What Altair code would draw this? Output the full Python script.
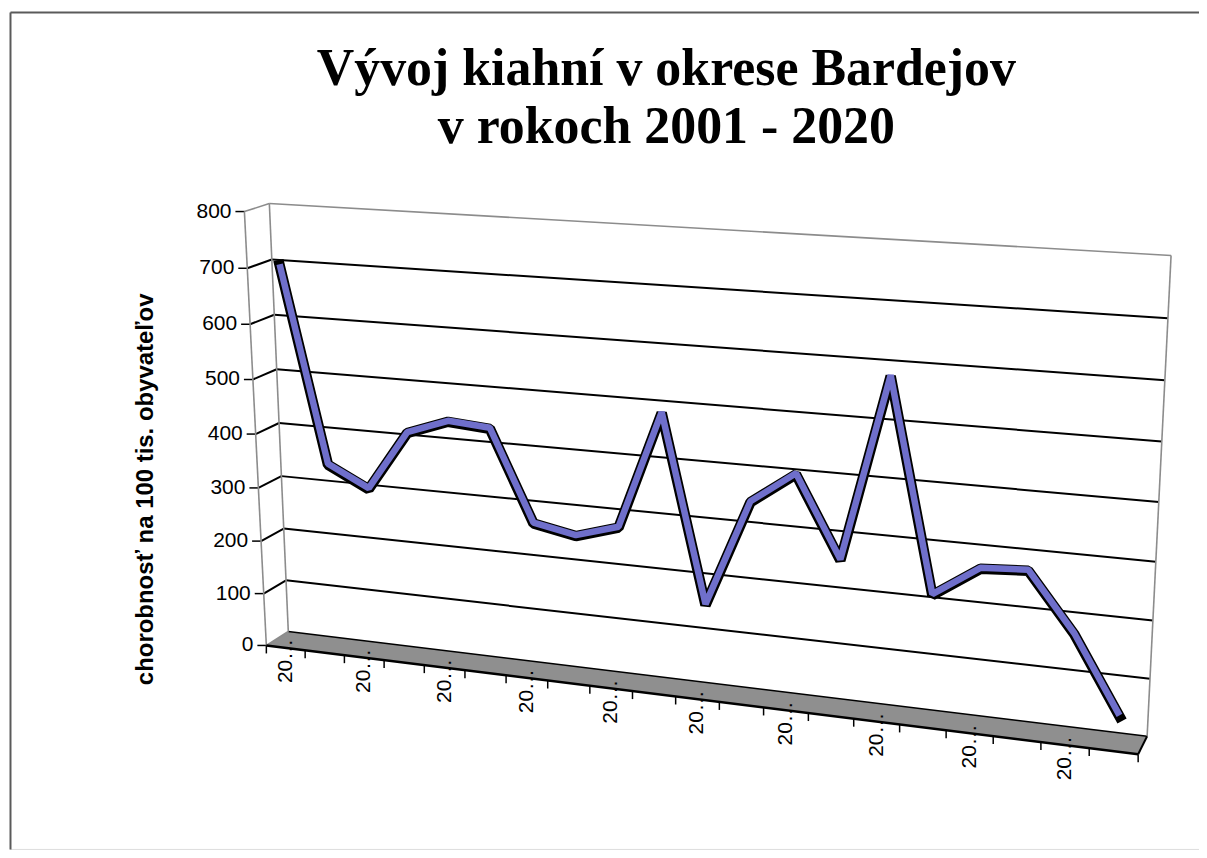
import altair as alt
import pandas as pd

# ---------------- data ----------------
years = ["2001", "2002", "2003", "2004", "2005", "2006", "2007", "2008", "2009", "2010",
         "2011", "2012", "2013", "2014", "2015", "2016", "2017", "2018", "2019", "2020"]
values = [700, 343, 305, 415, 442, 436, 272, 257, 280, 490,
          157, 348, 404, 262, 584, 218, 272, 277, 177, 45]
y_ticks = [0, 100, 200, 300, 400, 500, 600, 700, 800]
title_lines = ["Vývoj kiahní v okrese Bardejov", "v rokoch 2001 - 2020"]
y_title = "chorobnosť na 100 tis. obyvateľov"

# ---------------- 3D box geometry (screen pixels) ----------------
VIEW_X0, VIEW_Y0, VIEW_W, VIEW_H = 10, 11, 1192, 839
# each edge: (point at value 0, point at top value)
BOX = {
    "FL": ((267, 646), (245, 211)),   # front-left edge
    "BL": ((289, 632), (270, 203)),   # back-left edge
    "FR": ((1141, 755), (1165, 266)), # front-right edge
    "BR": ((1150, 737), (1174, 255)), # back-right edge
}
KV, KH = 0.95, 0.885   # perspective foreshortening (vertical, horizontal)
N = len(years)
VMAX = y_ticks[-1]


def warp(s, k):
    return k * s / (1 + (k - 1) * s)


def edge(name, v):
    (x0, y0), (x1, y1) = BOX[name]
    h = warp(v / VMAX, KV)
    return x0 + (x1 - x0) * h, y0 + (y1 - y0) * h


def proj(c, d, v):
    """category position c (0..N), depth d (0 front .. 1 back), value v."""
    f = warp(c / N, KH)
    flx, fly = edge("FL", v)
    blx, bly = edge("BL", v)
    frx, fry = edge("FR", v)
    brx, bry = edge("BR", v)
    lx, ly = flx + (blx - flx) * d, fly + (bly - fly) * d
    rx, ry = frx + (brx - frx) * d, fry + (bry - fry) * d
    return lx + (rx - lx) * f, ly + (ry - ly) * f


GRAY = "#8c8c8c"
rules = []


def add_rule(p, q, color, width):
    rules.append(dict(x=p[0], y=p[1], x2=q[0], y2=q[1], stroke=color, sw=width))


for v in y_ticks:
    inner = 0 < v < VMAX
    add_rule(proj(0, 1, v), proj(N, 1, v), "black" if v < VMAX else GRAY, 2 if inner else 1.6)
    add_rule(proj(0, 0, v), proj(0, 1, v), "black" if inner else GRAY, 2 if inner else 1.6)
    fx, fy = proj(0, 0, v)
    add_rule((fx - 9, fy), (fx, fy), "black", 1.5)

add_rule(proj(0, 1, 0), proj(0, 1, VMAX), GRAY, 1.6)
add_rule(proj(N, 1, 0), proj(N, 1, VMAX), GRAY, 1.6)
add_rule(proj(0, 0, 0), proj(0, 0, VMAX), GRAY, 1.6)
add_rule(proj(0, 0, 0), proj(N, 0, 0), "black", 2.5)
add_rule(proj(N, 0, 0), proj(N, 1, 0), "black", 2)
for c in range(N + 1):
    px, py = proj(c, 0, 0)
    add_rule((px, py), (px, py + 8), "black", 1.5)
rules_df = pd.DataFrame(rules)

# floor parallelogram
A, B, C, D = proj(0, 0, 0), proj(0, 1, 0), proj(N, 1, 0), proj(N, 0, 0)


def y_on(p, q, x):
    return p[1] + (q[1] - p[1]) * (x - p[0]) / (q[0] - p[0])


floor_df = pd.DataFrame({
    "x": [A[0], B[0], D[0], C[0]],
    "y": [A[1], B[1], y_on(B, C, D[0]), C[1]],
    "y2": [A[1], y_on(A, D, B[0]), D[1], C[1]],
})

# series ribbon (middle depth)
rib = []
for i, v in enumerate(values):
    px, py = proj(i + 0.5, 0.5, v)
    rib.append(dict(i=i, year=years[i], value=v, x=px, y=py))
rib_df = pd.DataFrame(rib)

# value-axis labels
ylab = []
for v in y_ticks:
    fx, fy = proj(0, 0, v)
    ylab.append(dict(x=fx - 13, y=fy, text=str(v)))
ylab_df = pd.DataFrame(ylab)

# category labels (every second year, truncated like the original)
xlab = []
for i in range(0, N, 2):
    px, py = proj(i + 0.5, 0, 0)
    xlab.append(dict(x=px, y=py - 9, text=years[i]))
xlab_df = pd.DataFrame(xlab)

# ---------------- chart ----------------
XS = alt.Scale(domain=[VIEW_X0, VIEW_X0 + VIEW_W], nice=False, zero=False)
YS = alt.Scale(domain=[VIEW_Y0, VIEW_Y0 + VIEW_H], nice=False, zero=False, reverse=True)
x_axis = alt.Axis(orient="top", title=None, labels=False, ticks=False, grid=False,
                  domain=True, domainColor="#5a5a5a", domainWidth=2)
y_axis = alt.Axis(orient="left", title=y_title, labels=False, ticks=False, grid=False,
                  domain=True, domainColor="#5a5a5a", domainWidth=2,
                  titleFont="Liberation Sans", titleFontSize=24, titleFontWeight="bold",
                  titleColor="black", titleAngle=270, titleAlign="center",
                  titleBaseline="middle", titleX=136, titleY=478)


def xe():
    return alt.X("x:Q", scale=XS, axis=x_axis)


def ye():
    return alt.Y("y:Q", scale=YS, axis=y_axis)


floor = alt.Chart(floor_df).mark_area(color="#8f8f8f", opacity=1).encode(
    x=xe(), y=ye(), y2="y2:Q"
)
lines = alt.Chart(rules_df).mark_rule().encode(
    x=xe(), y=ye(), x2="x2:Q", y2="y2:Q",
    color=alt.Color("stroke:N", scale=None),
    strokeWidth=alt.StrokeWidth("sw:Q", scale=None),
)
rib_black = alt.Chart(rib_df).mark_line(
    color="black", strokeWidth=10.5, strokeJoin="bevel", strokeCap="square"
).encode(x=xe(), y=ye(), order="i:Q")
rib_blue = alt.Chart(rib_df).mark_line(
    color="#6f6fcb", strokeWidth=6.5, strokeJoin="bevel", strokeCap="butt", yOffset=-1
).encode(x=xe(), y=ye(), order="i:Q")
ylabels = alt.Chart(ylab_df).mark_text(
    font="Liberation Sans", fontSize=21, align="right", baseline="middle", color="black"
).encode(x=xe(), y=ye(), text="text:N")
xlabels = alt.Chart(xlab_df).mark_text(
    font="Liberation Sans", fontSize=21, align="right", baseline="middle", angle=270,
    limit=44.8, color="black"
).encode(x=xe(), y=ye(), text="text:N")

chart = alt.layer(floor, lines, rib_black, rib_blue, ylabels, xlabels).properties(
    width=VIEW_W, height=VIEW_H,
    autosize=alt.AutoSizeParams(type="none"),
    padding={"left": 2, "top": 3, "right": 0, "bottom": 0},
    title=alt.TitleParams(
        text=title_lines, font="Liberation Serif", fontSize=52, fontWeight="bold",
        color="black", anchor="middle", frame="group", dx=62, dy=183, offset=0,
        lineHeight=58, baseline="alphabetic"
    ),
).configure_view(stroke=None).configure(background="white")

chart.save("out.html", embed_options={"renderer": "svg", "actions": False})
